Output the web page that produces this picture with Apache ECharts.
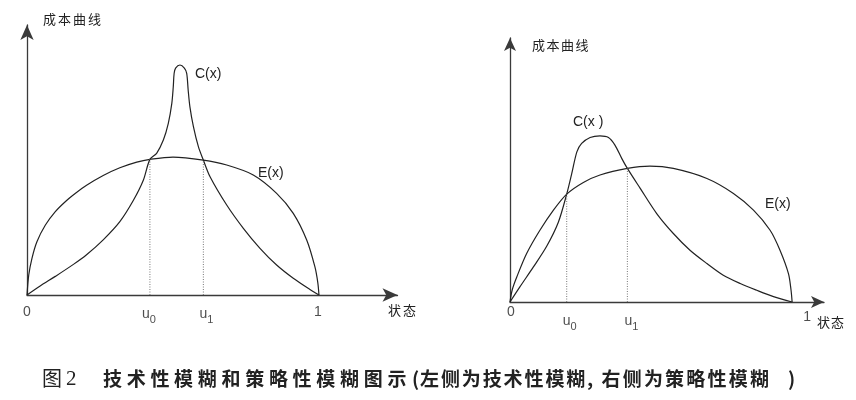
<!DOCTYPE html>
<html>
<head>
<meta charset="utf-8">
<script src="https://cdn.jsdelivr.net/npm/echarts@6/dist/echarts.min.js"></script>
<style>html,body{margin:0;padding:0;background:#fff}#c{width:856px;height:400px}</style>
</head>
<body>
<div id="c"></div>
<script>
// ---- Left panel (technical fuzziness) ----
const leftEx = [0, 0.006, 0.017, 0.034, 0.063, 0.097, 0.131, 0.165, 0.204, 0.261, 0.318, 0.376, 0.421, 0.5, 0.604, 0.684, 0.775, 0.855, 0.912, 0.958, 0.986, 0.996, 1.0];
const leftEy = [0, 0.145, 0.266, 0.386, 0.507, 0.604, 0.676, 0.735, 0.795, 0.866, 0.922, 0.963, 0.983, 1.0, 0.978, 0.942, 0.870, 0.737, 0.592, 0.399, 0.205, 0.09, 0];
const leftCx = [0, 0.045, 0.097, 0.159, 0.204, 0.261, 0.318, 0.364, 0.398, 0.421, 0.444, 0.467, 0.484, 0.496, 0.501, 0.504, 0.509, 0.524, 0.539, 0.547, 0.552, 0.558, 0.570, 0.587, 0.604, 0.627, 0.684, 0.741, 0.798, 0.855, 0.912, 0.969, 1.0];
const leftCy = [0, 0.065, 0.135, 0.222, 0.292, 0.400, 0.532, 0.685, 0.830, 0.983, 1.027, 1.123, 1.244, 1.389, 1.509, 1.607, 1.645, 1.667, 1.645, 1.607, 1.486, 1.364, 1.220, 1.075, 0.978, 0.857, 0.652, 0.483, 0.338, 0.217, 0.121, 0.040, 0];
const leftU = [0.421, 0.604];
const leftUy = [0.983, 0.978];

// ---- Right panel (strategic fuzziness) ----
const rightEx = [0, 0.008, 0.024, 0.059, 0.106, 0.154, 0.201, 0.260, 0.319, 0.416, 0.496, 0.579, 0.698, 0.792, 0.863, 0.922, 0.957, 0.987, 0.996, 1.0];
const rightEy = [0, 0.09, 0.184, 0.357, 0.528, 0.676, 0.794, 0.880, 0.935, 0.983, 1.0, 0.983, 0.909, 0.799, 0.676, 0.528, 0.381, 0.209, 0.09, 0];
const rightCx = [0, 0.035, 0.083, 0.130, 0.171, 0.201, 0.219, 0.237, 0.254, 0.284, 0.319, 0.349, 0.372, 0.396, 0.416, 0.461, 0.520, 0.579, 0.638, 0.698, 0.756, 0.816, 0.875, 0.934, 1.0];
const rightCy = [0, 0.111, 0.258, 0.410, 0.585, 0.794, 0.946, 1.105, 1.167, 1.211, 1.223, 1.211, 1.155, 1.057, 0.983, 0.838, 0.651, 0.504, 0.381, 0.283, 0.197, 0.136, 0.086, 0.040, 0];
const rightU = [0.201, 0.416];
const rightUy = [0.794, 0.983];

const tickNames = ['0', 'u0', 'u1', '1'];
const yTitle = '成本曲线';
const xTitle = '状态';
const captionFig = ['图', '2'];
const captionParts = ['技术性模糊和策略性模糊图示', '(', '左侧为技术性模糊', ',', '右侧为策略性模糊', ')'];

const pairs = (xs, ys) => xs.map((x, i) => [x, ys[i]]);
const ink = '#222';
const curveStyle = { color: ink, width: 1.2 };

function axes(idx, xmax, ymax, arrow) {
  const line = { show: true, symbol: ['none', 'arrow'], symbolSize: arrow, lineStyle: { color: '#3a3a3a', width: 1.3 } };
  return {
    x: { type: 'value', gridIndex: idx, min: 0, max: xmax, axisLine: line, axisTick: { show: false }, axisLabel: { show: false }, splitLine: { show: false } },
    y: { type: 'value', gridIndex: idx, min: 0, max: ymax, axisLine: line, axisTick: { show: false }, axisLabel: { show: false }, splitLine: { show: false } }
  };
}
const a0 = axes(0, 1.269, 1.957, [10, 15]);
const a1 = axes(1, 1.113, 1.943, [9, 13]);

function curve(idx, xs, ys) {
  return { type: 'line', xAxisIndex: idx, yAxisIndex: idx, data: pairs(xs, ys), showSymbol: false, smooth: 0.3, lineStyle: curveStyle, silent: true };
}
function dotted(idx, u, uy) {
  return u.map((x, i) => ({ type: 'line', xAxisIndex: idx, yAxisIndex: idx, data: [[x, 0], [x, uy[i]]], showSymbol: false, lineStyle: { color: '#777', width: 1, type: [1, 1.5] }, silent: true }));
}
const rich = {
  m: { fontSize: 14, fontFamily: 'Liberation Sans, Arial', color: ink },
  s: { fontSize: 11, fontFamily: 'Liberation Sans, Arial', color: ink, padding: [10, 0, 0, 0] }
};
function fmt(p) {
  const n = p.name;
  return n.length > 1 ? '{m|' + n[0] + '}{s|' + n[1] + '}' : '{m|' + n + '}';
}
function ticks(idx, u, offsets) {
  const xs = [0, u[0], u[1], 1];
  return {
    type: 'scatter', xAxisIndex: idx, yAxisIndex: idx, symbolSize: 0, silent: true,
    data: xs.map((x, i) => ({ name: tickNames[i], value: [x, 0], label: { offset: offsets[i] } })),
    label: { show: true, position: 'bottom', distance: 0, formatter: fmt, rich: rich }
  };
}

function txt(left, top, text, size, family, weight) {
  return { type: 'text', left: left, top: top, style: { text: text, fontSize: size, fontFamily: family || 'Noto Sans CJK SC', fontWeight: weight || 'normal', fill: ink } };
}
// spaced text: place each character with a fixed pitch
function spaced(x0, top, text, pitch, size, weight) {
  return Array.from(text).map((ch, i) => ({ type: 'text', x: x0 + i * pitch, y: top, style: { text: ch, fontSize: size, fontFamily: 'Noto Sans CJK SC', fontWeight: weight || 'normal', fill: ink } }));
}

const capTop = 369;
const capStarts = [103, 412, 420, 587, 601.5, 788];
const capPitch = [23.7, 0, 20.9, 0, 21.2, 0];

const graphics = [
  ...spaced(43, 13, yTitle, 15, 13),
  txt(195, 67, 'C(x)', 14, 'Liberation Sans, Arial'),
  txt(258, 166, 'E(x)', 14, 'Liberation Sans, Arial'),
  ...spaced(388, 304, xTitle, 15, 13),
  ...spaced(532, 39, yTitle, 14.5, 13),
  txt(573, 115, 'C(x )', 14, 'Liberation Sans, Arial'),
  txt(765, 197, 'E(x)', 14, 'Liberation Sans, Arial'),
  ...spaced(817, 316, xTitle, 14, 13),
  txt(42, capTop - 1, captionFig[0], 20),
  txt(66, capTop, captionFig[1], 21, 'Liberation Serif'),
];
captionParts.forEach((p, i) => graphics.push(...spaced(capStarts[i], capTop, p, capPitch[i], 19, 'bold')));

const chart = echarts.init(document.getElementById('c'), null, { renderer: 'canvas' });
chart.setOption({
  animation: false,
  backgroundColor: '#fff',
  grid: [
    { left: 27, top: 25, width: 370.5, height: 270 },
    { left: 510, top: 38, width: 314, height: 264 }
  ],
  xAxis: [a0.x, a1.x],
  yAxis: [a0.y, a1.y],
  series: [
    curve(0, leftEx, leftEy),
    curve(0, leftCx, leftCy),
    ...dotted(0, leftU, leftUy),
    ticks(0, leftU, [[0, 10], [-1, 9], [3, 9], [-1, 10]]),
    curve(1, rightEx, rightEy),
    curve(1, rightCx, rightCy),
    ...dotted(1, rightU, rightUy),
    ticks(1, rightU, [[1, 3], [3, 9], [4, 9], [15, 8]])
  ],
  graphic: graphics
});
</script>
</body>
</html>
